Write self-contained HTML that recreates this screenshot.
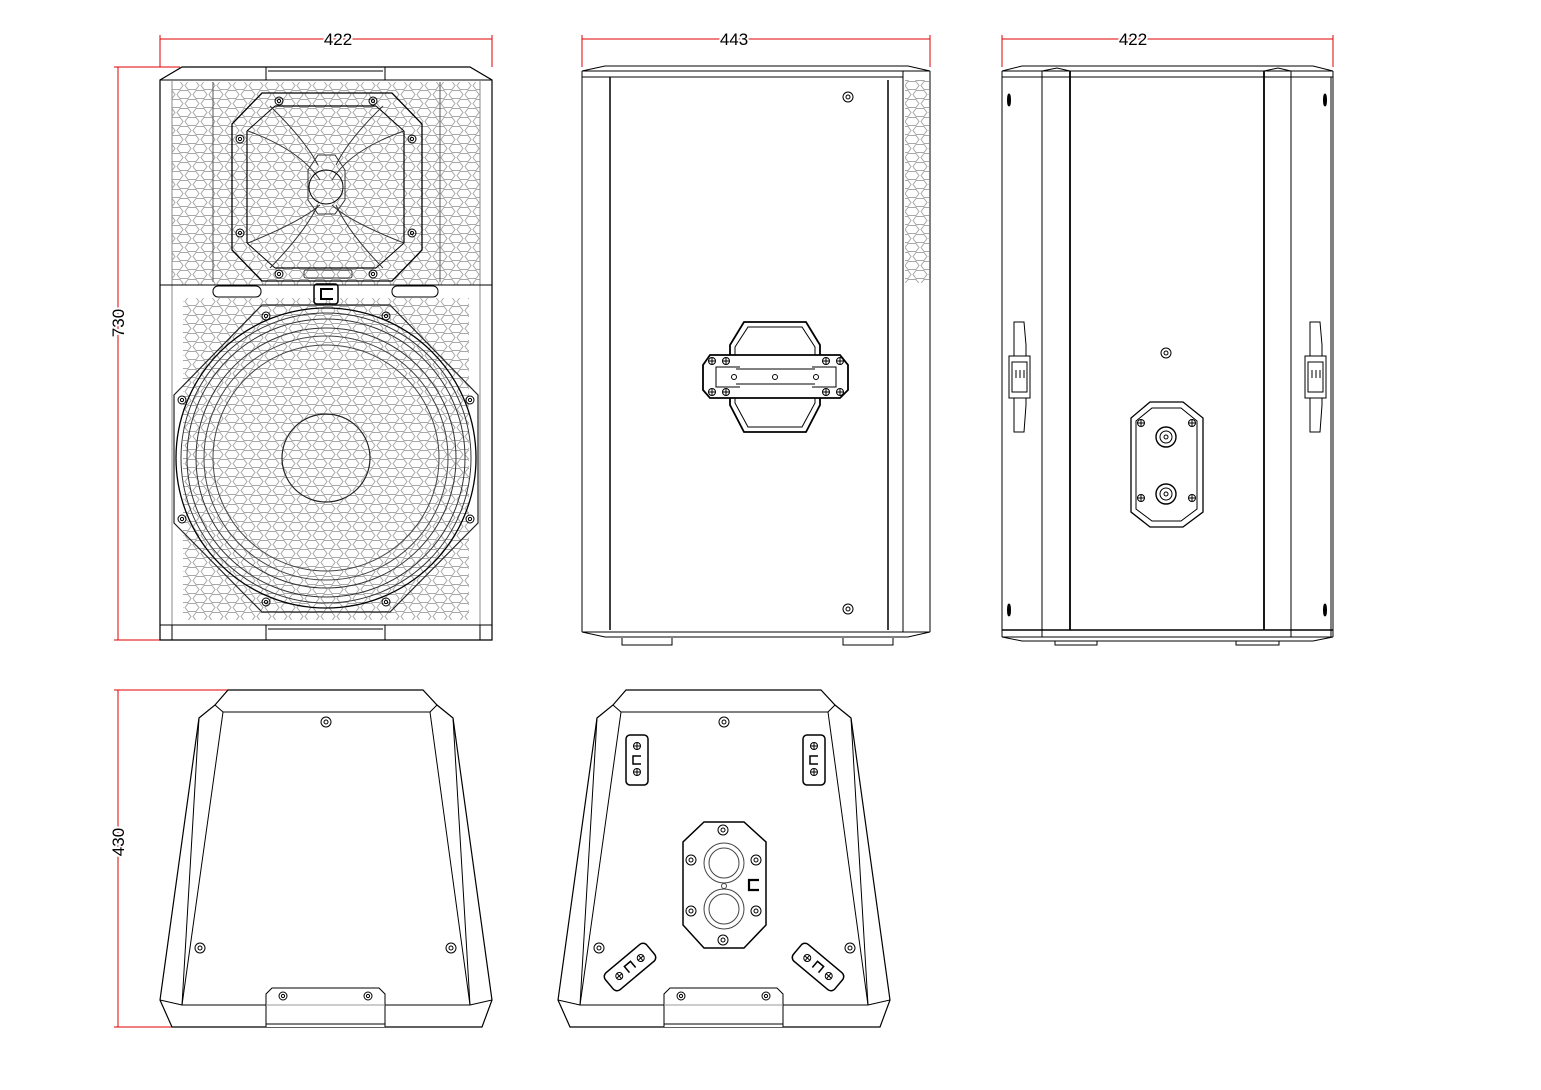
<!DOCTYPE html>
<html><head><meta charset="utf-8"><style>
html,body{margin:0;padding:0;background:#fff;width:1541px;height:1090px;overflow:hidden}
svg{display:block}
text{font-family:"Liberation Sans",sans-serif}
</style></head><body>
<svg width="1541" height="1090" viewBox="0 0 1541 1090" xmlns="http://www.w3.org/2000/svg" fill="none" stroke="#000" stroke-width="1">
<defs>
<pattern id="hex" x="0" y="0" width="16" height="18" patternUnits="userSpaceOnUse">
<path d="M1 4.5 L4 0.5 L12 0.5 L15 4.5 L12 8.5 L4 8.5 Z M-7 13.5 L-4 9.5 L4 9.5 L7 13.5 L4 17.5 L-4 17.5 Z M9 13.5 L12 9.5 L20 9.5 L23 13.5 L20 17.5 L12 17.5 Z" stroke="#a8a8a8" stroke-width="1" fill="none"/>
</pattern>
<g id="scr"><circle r="5"/><circle r="2"/></g>
<g id="scrs"><circle r="4"/><circle r="1.6"/></g>
<g id="ph"><circle r="3.5"/><path d="M-3.5 0H3.5M0 -3.5V3.5"/></g>
</defs>

<g stroke="#e00000">
<path d="M160 39H492M160 35V67M492 35V67"/>
<path d="M118 67V640M114 67H180M114 640H180"/>
<path d="M582 39H930M582 35V67M930 35V67"/>
<path d="M1002 39H1333M1002 35V67M1333 35V67"/>
<path d="M118 690V1027M114 690H230M114 1027H172"/>
</g>
<g fill="#000" stroke="none" font-size="17">
<text x="338" y="45" text-anchor="middle" stroke="#fff" stroke-width="4" style="paint-order:stroke">422</text>
<text x="734" y="45" text-anchor="middle" stroke="#fff" stroke-width="4" style="paint-order:stroke">443</text>
<text x="1133" y="45" text-anchor="middle" stroke="#fff" stroke-width="4" style="paint-order:stroke">422</text>
<text transform="translate(124,323) rotate(-90)" text-anchor="middle" stroke="#fff" stroke-width="4" style="paint-order:stroke">730</text>
<text transform="translate(124,842) rotate(-90)" text-anchor="middle" stroke="#fff" stroke-width="4" style="paint-order:stroke">430</text>
</g>

<g>
<rect x="172" y="82" width="308" height="203" fill="url(#hex)" stroke="none"/>
<rect x="183" y="298" width="286" height="322" fill="url(#hex)" stroke="none"/>
<path d="M160 80 L182 67 H470 L492 80 V640 H160 Z" stroke-width="1.2"/>
<path d="M160 80H492M266 67V80M385 67V80M268 71H383"/>
<path d="M172 80V625M480 80V625" stroke="#888"/>
<path d="M213 82V282M440 82V282" stroke="#555"/>
<path d="M160 285H492"/>
<rect x="213" y="286" width="48" height="11" rx="5"/>
<rect x="392" y="286" width="46" height="11" rx="5"/>
<rect x="314" y="284" width="24" height="20" rx="3" stroke-width="1.5"/>
<path d="M333 289H321V299H333" stroke-width="2"/>
<path d="M160 625H492M172 625V640M480 625V640M266 625V640M385 625V640M268 629H383"/>
<path d="M262 93 H392 L422 124 V250 L392 281 H262 L232 250 V124 Z" stroke-width="1.3"/>
<path d="M275 106 H376 M247 131 V243 M275 268 H376 M404 131 V243" stroke-width="1.2"/>
<path d="M247 131 L275 106 M376 106 L404 131 M247 243 L275 268 M376 268 L404 243" />
<path d="M248 131 Q300 150 320 180 M404 131 Q350 150 332 180 M248 243 Q300 222 320 205 M404 243 Q350 222 332 205" stroke="#333"/>
<path d="M270 106 Q305 140 318 165 M383 106 Q348 140 336 165 M270 268 Q305 232 318 205 M383 268 Q348 232 336 205" stroke="#333"/>
<path d="M318 155 H335 L345 170 V200 L335 214 H318 L308 200 V170 Z" stroke="#333"/>
<circle cx="326" cy="187" r="17"/>
<use href="#scrs" x="279" y="101"/><use href="#scrs" x="373" y="101"/>
<use href="#scrs" x="240" y="139"/><use href="#scrs" x="412" y="139"/>
<use href="#scrs" x="240" y="233"/><use href="#scrs" x="412" y="233"/>
<use href="#scrs" x="279" y="274"/><use href="#scrs" x="373" y="274"/>
<rect x="304" y="270" width="48" height="8" rx="2" stroke="#333"/>
<path d="M262 305 H390 L478 395 V523 L390 612 H262 L174 523 V395 Z" stroke="#222" stroke-width="1.2"/>
<circle cx="326" cy="458" r="150" stroke-width="1.3"/>
<circle cx="326" cy="458" r="145" stroke="#333"/>
<circle cx="326" cy="458" r="139" stroke="#333"/>
<circle cx="326" cy="458" r="130" stroke="#333"/>
<circle cx="326" cy="458" r="122" stroke="#444"/>
<circle cx="326" cy="458" r="113" stroke="#444"/>
<circle cx="326" cy="458" r="44" stroke="#222" stroke-width="1.2"/>
<use href="#scrs" x="266" y="316"/><use href="#scrs" x="386" y="316"/>
<use href="#scrs" x="182" y="400"/><use href="#scrs" x="470" y="400"/>
<use href="#scrs" x="182" y="519"/><use href="#scrs" x="470" y="519"/>
<use href="#scrs" x="266" y="602"/><use href="#scrs" x="386" y="602"/>
</g>

<g>
<rect x="905" y="80" width="24" height="203" fill="url(#hex)" stroke="none"/>
<path d="M582 71 L605 66 H908 L930 71"/>
<path d="M582 71H930M582 77H903M582 71V632M930 71V632"/>
<path d="M610 77V630M888 80V630" stroke-width="1.5"/>
<path d="M903 71V632"/>
<path d="M582 632 L605 637 H908 L930 632 Z M582 632H930"/>
<path d="M622 638V645H672V638M843 638V645H893V638"/>
<use href="#scr" x="848" y="97"/><use href="#scr" x="848" y="609"/>
<path d="M744 322 H806 L820 345 V405 L806 432 H744 L730 405 V345 Z" stroke-width="1.8"/>
<path d="M748 327 H802 L815 347 V403 L802 427 H748 L735 403 V347 Z"/>
<path d="M710 355 H840 L848 365 V390 L840 398 H710 L703 390 V365 Z" fill="#fff" stroke-width="1.8"/>
<path d="M736 369 H815 M736 384 H815"/>
<path d="M740 367 H716 V387 H740 M812 367 H836 V387 H812"/>
<use href="#ph" x="712" y="361"/><use href="#ph" x="726" y="361"/><use href="#ph" x="712" y="392"/><use href="#ph" x="726" y="392"/>
<use href="#ph" x="826" y="361"/><use href="#ph" x="840" y="361"/><use href="#ph" x="826" y="392"/><use href="#ph" x="840" y="392"/>
<circle cx="734" cy="377" r="2.5"/><circle cx="775" cy="377" r="2.5"/><circle cx="816" cy="377" r="2.5"/>
</g>

<g>
<path d="M1002 71 L1022 66 H1313 L1333 71"/>
<path d="M1002 71H1333M1002 77H1333M1002 71V637M1333 71V637"/>
<path d="M1042 71 L1057 68 L1070 71 M1264 71 L1278 68 L1291 71"/>
<path d="M1042 71V637M1291 71V637M1331 77V637"/>
<path d="M1070 71V630M1264 71V630" stroke-width="1.8"/>
<path d="M1002 630H1333" stroke-width="1.6"/>
<path d="M1002 637H1333M1002 637 L1022 641 H1313 L1333 637"/>
<path d="M1055 641V645H1097V641M1236 641V645H1279V641"/>
<ellipse cx="1009" cy="100" rx="1.5" ry="6" fill="#000"/><ellipse cx="1009" cy="610" rx="1.5" ry="6" fill="#000"/>
<ellipse cx="1325" cy="100" rx="1.5" ry="6" fill="#000"/><ellipse cx="1325" cy="610" rx="1.5" ry="6" fill="#000"/>
<use href="#scr" x="1166" y="353"/>
<path d="M1150 402 H1183 L1203 418 V512 L1183 527 H1150 L1131 512 V418 Z" stroke-width="1.3"/>
<path d="M1152 408 H1181 L1197 421 V509 L1181 521 H1152 L1136 509 V421 Z"/>
<use href="#ph" x="1141" y="423"/><use href="#ph" x="1192" y="423"/>
<use href="#ph" x="1141" y="498"/><use href="#ph" x="1192" y="498"/>
<circle cx="1166" cy="437" r="10" stroke-width="1.4"/><circle cx="1166" cy="437" r="6"/><circle cx="1166" cy="437" r="2"/>
<circle cx="1166" cy="494" r="10" stroke-width="1.4"/><circle cx="1166" cy="494" r="6"/><circle cx="1166" cy="494" r="2"/>
<g id="sh">
<path d="M1014 322 H1024 L1026 345 V405 L1024 432 H1014 L1014 405 V345 Z"/>
<rect x="1009" y="356" width="21" height="42" fill="#fff"/>
<rect x="1012" y="362" width="15" height="30"/>
<path d="M1016 370V378M1020 370V378M1024 370V378"/>
</g>
<use href="#sh" x="296"/>
</g>

<g id="bot">
<path d="M228 690 H423 L437 705 L453 718 L492 1000 L482 1027 H172 L160 1000 L199 718 L215 705 Z" stroke-width="1.2"/>
<path d="M223 712 H430 L470 1005 H182 Z"/>
<path d="M215 705 L223 712 M437 705 L430 712 M199 718 L182 1005 M453 718 L470 1005 M160 1000 L182 1005 M492 1000 L470 1005"/>
<path d="M266 1027 V994 L272 988 H379 L385 994 V1027" fill="#fff"/>
<path d="M266 1005 H385" stroke="#999"/>
<path d="M266 1024 H385"/>
<use href="#scrs" x="283" y="996"/><use href="#scrs" x="368" y="996"/>
</g>
<use href="#scr" x="326" y="722"/>
<use href="#scr" x="200" y="948"/><use href="#scr" x="451" y="948"/>

<use href="#bot" x="398"/>
<use href="#scr" x="724" y="722"/>
<use href="#scr" x="599" y="948"/><use href="#scr" x="850" y="948"/>
<rect x="626" y="735" width="22" height="50" rx="4" stroke-width="1.5"/>
<rect x="803" y="735" width="22" height="50" rx="4" stroke-width="1.5"/>
<use href="#ph" x="637" y="746"/><use href="#ph" x="637" y="772"/>
<use href="#ph" x="814" y="746"/><use href="#ph" x="814" y="772"/>
<path d="M641 756H633V764H641M818 756H810V764H818" stroke-width="1.5"/>
<g transform="translate(630,967) rotate(-40)"><rect x="-27" y="-11" width="54" height="22" rx="5" stroke-width="1.5"/><use href="#ph" x="-14" y="0"/><use href="#ph" x="14" y="0"/><path d="M-4 4V-4H4V4" stroke-width="1.5"/></g>
<g transform="translate(818,967) rotate(40)"><rect x="-27" y="-11" width="54" height="22" rx="5" stroke-width="1.5"/><use href="#ph" x="-14" y="0"/><use href="#ph" x="14" y="0"/><path d="M-4 4V-4H4V4" stroke-width="1.5"/></g>
<path d="M704 822 H744 L766 842 V925 L744 948 H704 L683 925 V842 Z" stroke-width="1.5"/>
<use href="#scr" x="723" y="830"/><use href="#scr" x="723" y="940"/>
<use href="#scr" x="691" y="860"/><use href="#scr" x="756" y="860"/>
<use href="#scr" x="691" y="911"/><use href="#scr" x="756" y="911"/>
<circle cx="724" cy="863" r="20" stroke="#444"/><circle cx="724" cy="863" r="15" stroke="#444"/>
<circle cx="724" cy="909" r="20" stroke="#444"/><circle cx="724" cy="909" r="15" stroke="#444"/>
<circle cx="724" cy="886" r="2.5" stroke="#444"/>
<path d="M759 880H749V890H759" stroke-width="2.2"/>
</svg>
</body></html>
